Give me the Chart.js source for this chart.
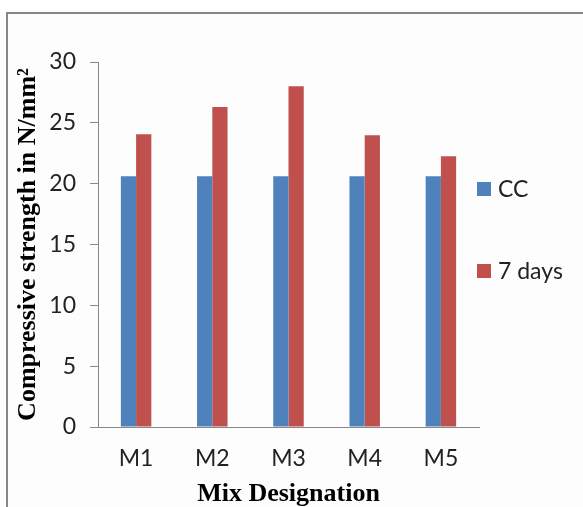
<!DOCTYPE html>
<html>
<head>
<meta charset="utf-8">
<script src="https://cdn.jsdelivr.net/npm/chart.js@4/dist/chart.umd.min.js"></script>
<style>
  html, body { margin: 0; padding: 0; background: #ffffff; overflow: hidden; }
  #wrap { position: relative; width: 583px; height: 507px; }
  #frame {
    position: absolute; left: 6px; top: 12px; width: 700px; height: 600px;
    border: 2px solid #878787; background: #fdfdfd; box-sizing: border-box;
  }
  #chart { position: absolute; left: 0; top: 0; }
</style>
</head>
<body>
<div id="wrap">
  <div id="frame"></div>
  <canvas id="chart" width="583" height="507"></canvas>
</div>
<script>
// Compressive strength of each mix, control (CC) against 7-day results
const mixes = ['M1', 'M2', 'M3', 'M4', 'M5'];
const ccStrength = [20.6, 20.6, 20.6, 20.6, 20.6];
const sevenDayStrength = [24.06, 26.3, 28.0, 23.97, 22.25];
const seriesNames = ['CC', '7 days'];
const seriesColors = ['#4F81BD', '#C0504D'];
const yTicks = [0, 5, 10, 15, 20, 25, 30];

const tickFont = { family: 'Lato', size: 23 };
const yTitleFont = { family: 'Liberation Serif', size: 26, weight: 'bold' };
const xTitleFont = { family: 'Liberation Serif', size: 26, weight: 'bold', lineHeight: 1.0 };

// Vertical legend on the right, items widely spaced
const sideLegend = {
  id: 'sideLegend',
  afterDraw(chart) {
    const { ctx, chartArea } = chart;
    const x = chartArea.right - 2;
    const rows = [chartArea.top + 127, chartArea.top + 209];
    ctx.save();
    ctx.font = '23px Lato';
    ctx.textBaseline = 'middle';
    ctx.textAlign = 'left';
    chart.data.datasets.forEach((ds, i) => {
      const y = rows[i];
      ctx.fillStyle = ds.backgroundColor;
      ctx.fillRect(x, y - 7, 14, 14);
      ctx.fillStyle = '#222222';
      ctx.fillText(ds.label, x + 21, y + 1);
    });
    ctx.restore();
  }
};

new Chart(document.getElementById('chart'), {
  type: 'bar',
  data: {
    labels: mixes,
    datasets: [
      { label: seriesNames[0], data: ccStrength, backgroundColor: seriesColors[0] },
      { label: seriesNames[1], data: sevenDayStrength, backgroundColor: seriesColors[1] }
    ]
  },
  options: {
    responsive: false,
    animation: false,
    layout: { padding: { left: 8, right: 104, top: 62, bottom: 0 } },
    datasets: { bar: { barPercentage: 1.0, categoryPercentage: 0.4 } },
    plugins: { legend: { display: false }, tooltip: { enabled: false } },
    scales: {
      x: {
        grid: { display: true, drawOnChartArea: false, drawTicks: false },
        border: { display: true, color: '#888888', width: 1 },
        ticks: { font: tickFont, color: '#222222', padding: 18 },
        title: { display: true, text: 'Mix Designation', font: xTitleFont, color: '#000000', padding: { top: 0, bottom: 0 } },
        afterFit(scale) { scale.height = 80; }
      },
      y: {
        min: 0, max: 30,
        afterBuildTicks(scale) { scale.ticks = yTicks.map(v => ({ value: v })); },
        grid: { display: true, drawOnChartArea: false, drawTicks: true, tickLength: 8, color: '#888888' },
        border: { display: true, color: '#888888', width: 1 },
        ticks: { font: tickFont, color: '#222222', padding: 14 },
        title: { display: true, text: 'Compressive strength in N/mm²', font: yTitleFont, color: '#000000', padding: { top: 5, bottom: 0 } },
        afterFit(scale) { scale.width = 90; }
      }
    }
  },
  plugins: [sideLegend]
});
</script>
</body>
</html>
